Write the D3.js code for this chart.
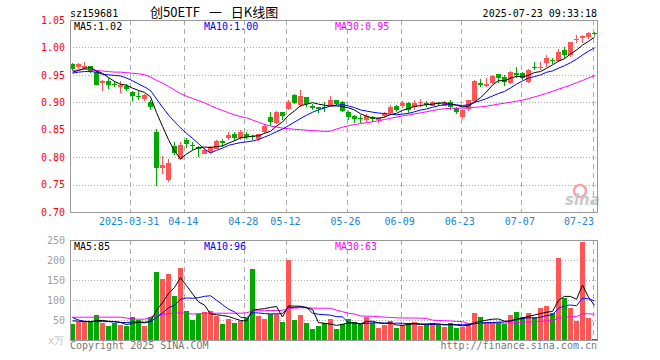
<!DOCTYPE html>
<html>
<head>
<meta charset="utf-8">
<script src="https://cdn.jsdelivr.net/npm/d3@7/dist/d3.min.js"></script>
<style>
  body { margin: 0; background: #fff; }
  svg text { font-family: "DejaVu Sans Mono", monospace; font-size: 10px; }
</style>
</head>
<body>
<svg id="chart" width="660" height="360"></svg>
<script>
// trading days shown (2025)
var dates = ["03-17","03-18","03-19","03-20","03-21","03-24","03-25","03-26","03-27","03-28","03-31",
  "04-01","04-02","04-03","04-07","04-08","04-09","04-10","04-11","04-14","04-15","04-16","04-17","04-18",
  "04-21","04-22","04-23","04-24","04-25","04-28","04-29","04-30",
  "05-06","05-07","05-08","05-09","05-12","05-13","05-14","05-15","05-16","05-19","05-20","05-21","05-22","05-23",
  "05-26","05-27","05-28","05-29","05-30",
  "06-03","06-04","06-05","06-06","06-09","06-10","06-11","06-12","06-13","06-16","06-17","06-18","06-19","06-20",
  "06-23","06-24","06-25","06-26","06-27","06-30",
  "07-01","07-02","07-03","07-04","07-07","07-08","07-09","07-10","07-11","07-14","07-15","07-16","07-17","07-18",
  "07-21","07-22","07-23"];

var open = [0.970,0.964,0.964,0.966,0.956,0.934,0.939,0.933,0.929,0.929,0.919,0.912,0.906,0.901,0.846,0.781,0.758,0.820,0.797,0.831,
  0.822,0.818,0.806,0.810,0.815,0.829,0.835,0.842,0.835,0.842,0.838,0.833,0.846,0.873,0.863,0.883,0.888,0.913,0.895,0.909,
  0.893,0.891,0.891,0.895,0.904,0.901,0.883,0.875,0.871,0.868,0.873,0.868,0.874,0.881,0.893,0.892,0.899,0.892,0.898,0.898,
  0.893,0.899,0.894,0.901,0.889,0.873,0.887,0.903,0.935,0.931,0.935,0.951,0.947,0.936,0.953,0.953,0.937,0.965,0.963,0.971,
  0.977,0.975,0.995,0.985,1.013,1.016,1.018,1.026];
var high = [0.971,0.972,0.974,0.966,0.957,0.940,0.944,0.938,0.939,0.933,0.921,0.920,0.916,0.905,0.851,0.802,0.796,0.828,0.828,0.834,
  0.828,0.820,0.816,0.821,0.832,0.833,0.845,0.845,0.849,0.845,0.840,0.843,0.860,0.883,0.885,0.883,0.904,0.916,0.922,0.909,
  0.897,0.892,0.900,0.911,0.905,0.903,0.885,0.877,0.877,0.879,0.875,0.873,0.883,0.895,0.895,0.902,0.900,0.904,0.906,0.902,
  0.902,0.901,0.902,0.904,0.891,0.887,0.905,0.941,0.942,0.944,0.950,0.951,0.950,0.957,0.965,0.956,0.960,0.974,0.974,0.986,
  0.980,0.997,1.000,1.010,1.023,1.023,1.029,1.029];
var low = [0.957,0.960,0.960,0.953,0.932,0.921,0.925,0.927,0.917,0.921,0.902,0.905,0.902,0.886,0.748,0.770,0.754,0.804,0.795,0.817,
  0.813,0.800,0.805,0.808,0.814,0.819,0.831,0.830,0.831,0.833,0.832,0.830,0.843,0.857,0.860,0.868,0.886,0.897,0.892,0.892,
  0.886,0.880,0.883,0.894,0.895,0.883,0.868,0.863,0.863,0.864,0.864,0.862,0.872,0.879,0.883,0.889,0.880,0.886,0.892,0.891,
  0.893,0.894,0.893,0.886,0.878,0.869,0.884,0.901,0.927,0.928,0.934,0.936,0.930,0.934,0.944,0.941,0.935,0.959,0.959,0.965,
  0.969,0.973,0.980,0.983,1.008,1.008,1.016,1.021];
var close = [0.960,0.969,0.967,0.957,0.933,0.938,0.931,0.931,0.932,0.924,0.911,0.910,0.913,0.892,0.780,0.786,0.789,0.808,0.822,0.823,
  0.820,0.814,0.813,0.819,0.830,0.826,0.840,0.834,0.846,0.836,0.836,0.842,0.857,0.864,0.883,0.875,0.901,0.899,0.911,0.896,
  0.890,0.887,0.889,0.904,0.897,0.885,0.874,0.870,0.869,0.875,0.870,0.871,0.880,0.892,0.886,0.898,0.887,0.899,0.900,0.895,
  0.901,0.898,0.901,0.892,0.881,0.886,0.904,0.939,0.932,0.934,0.948,0.944,0.938,0.956,0.950,0.944,0.958,0.963,0.965,0.980,
  0.975,0.992,0.985,1.009,1.015,1.020,1.026,1.024];
// volume, 万
var volume = [40,46,46,48,62,43,35,43,37,35,57,50,35,58,171,152,165,110,181,72,
  50,64,69,72,61,40,52,43,48,54,177,61,52,64,64,46,200,50,62,43,
  27,35,42,52,27,40,52,44,39,58,42,31,37,47,31,37,42,46,36,39,
  42,37,33,43,31,33,43,68,58,46,45,46,40,62,69,57,67,57,81,85,
  67,206,106,81,48,246,54,3];

// moving-average values before enough days are on screen
var ma5PriceHead = [0.955,0.958,0.962,0.963];
var ma10PriceHead = [0.953,0.955,0.956,0.956,0.955,0.951,0.950,0.949,0.948];
var ma30PriceHead = [0.958,0.959,0.960,0.959,0.958,0.957,0.956,0.955,0.955,0.954,0.953,0.952,0.950,0.946,0.940,
  0.935,0.929,0.922,0.916,0.911,0.907,0.903,0.899,0.894,0.889,0.885,0.881,0.877,0.874];
var ma5VolHead = [48,47,46,46];
var ma10VolHead = [56,50,47,46,46,46,46,45,44];
var ma30VolHead = [57,57,57,57,57,57,57,57,57,55,53,52,52,57,62,64,66,67,68,66,65,66,67,67,67,67,67,67,67];

var priceTicks = [0.70,0.75,0.80,0.85,0.90,0.95,1.00,1.05];
var volTicks = [50,100,150,200,250];
var dateTicks = ["03-31","04-14","04-28","05-12","05-26","06-09","06-23","07-07","07-23"];
var dateLabels = ["2025-03-31","04-14","04-28","05-12","05-26","06-09","06-23","07-07","07-23"];

var RED = "#ff5555", GREEN = "#00a800", GRID = "#aaaaaa", FRAME = "#999999";
var L = 70, R = 597, PT = 20, PB = 212, VT = 240, VB = 340;

function movingAvg(vals, n, head) {
  return vals.map(function (v, i) {
    if (i < n - 1) return head[i];
    return d3.mean(vals.slice(i - n + 1, i + 1));
  });
}

var svg = d3.select("#chart");
var x = d3.scaleBand().domain(dates).range([L, 599]);
var bw = x.bandwidth();
var yP = d3.scaleLinear().domain([0.70, 1.05]).range([PB, PT]);
var yV = d3.scaleLinear().domain([0, 250]).range([VB, VT]);
var cx = function (i) { return Math.floor(x(dates[i]) + 2) + 0.5; };

// grid
[[PT, PB], [VT, VB]].forEach(function (r) {
  svg.append("g").selectAll("line").data(dateTicks).enter().append("line")
    .attr("x1", function (d) { return Math.round(x(d)) + 0.5; })
    .attr("x2", function (d) { return Math.round(x(d)) + 0.5; })
    .attr("y1", r[0]).attr("y2", r[1])
    .attr("stroke", GRID).attr("stroke-dasharray", "5,4");
});
svg.append("g").selectAll("line").data(priceTicks.slice(1, -1)).enter().append("line")
  .attr("x1", L).attr("x2", R)
  .attr("y1", function (d) { return Math.round(yP(d)) + 0.5; })
  .attr("y2", function (d) { return Math.round(yP(d)) + 0.5; })
  .attr("stroke", GRID).attr("stroke-dasharray", "1,2");
svg.append("g").selectAll("line").data(volTicks.slice(0, -1)).enter().append("line")
  .attr("x1", L).attr("x2", R)
  .attr("y1", function (d) { return Math.round(yV(d)) + 0.5; })
  .attr("y2", function (d) { return Math.round(yV(d)) + 0.5; })
  .attr("stroke", GRID).attr("stroke-dasharray", "1,2");

// watermark
svg.append("circle").attr("cx", 580).attr("cy", 191).attr("r", 6)
  .attr("fill", "none").attr("stroke", "#f3a5a5").attr("stroke-width", 2.5);
svg.append("text").attr("x", 565).attr("y", 205)
  .style("font-family", "DejaVu Sans").style("font-size", "15px").style("font-style", "italic").style("font-weight", "bold")
  .attr("fill", "#c8c8c8").text("sina");

// candles
var idx = d3.range(dates.length);
var cg = svg.append("g").attr("shape-rendering", "crispEdges");
cg.selectAll("line").data(idx).enter().append("line")
  .attr("x1", cx).attr("x2", cx)
  .attr("y1", function (i) { return yP(high[i]); })
  .attr("y2", function (i) { return yP(low[i]); })
  .attr("stroke", function (i) { return close[i] >= open[i] ? RED : GREEN; });
cg.selectAll("rect").data(idx).enter().append("rect")
  .attr("x", function (i) { return Math.floor(x(dates[i])); })
  .attr("width", 5)
  .attr("y", function (i) { return Math.round(yP(Math.max(open[i], close[i]))); })
  .attr("height", function (i) { return Math.max(1, Math.round(Math.abs(yP(open[i]) - yP(close[i])))); })
  .attr("fill", function (i) { return close[i] >= open[i] ? RED : GREEN; });

// volume bars
svg.append("g").attr("shape-rendering", "crispEdges")
  .selectAll("rect").data(idx).enter().append("rect")
  .attr("x", function (i) { return Math.floor(x(dates[i])); })
  .attr("width", 5)
  .attr("y", function (i) { return Math.round(yV(volume[i])); })
  .attr("height", function (i) { return VB - Math.round(yV(volume[i])); })
  .attr("fill", function (i) { return close[i] >= open[i] ? RED : GREEN; });

// moving averages
function drawLine(vals, y, color) {
  var line = d3.line().x(function (d, i) { return cx(i); }).y(function (d) { return y(d); });
  svg.append("path").datum(vals).attr("d", line)
    .attr("fill", "none").attr("stroke", color).attr("stroke-width", 1);
}
var ma5P = movingAvg(close, 5, ma5PriceHead), ma10P = movingAvg(close, 10, ma10PriceHead), ma30P = movingAvg(close, 30, ma30PriceHead);
var ma5V = movingAvg(volume, 5, ma5VolHead), ma10V = movingAvg(volume, 10, ma10VolHead), ma30V = movingAvg(volume, 30, ma30VolHead);
drawLine(ma30P, yP, "#ff00ff");
drawLine(ma10P, yP, "#0000ff");
drawLine(ma5P, yP, "#000000");
drawLine(ma30V, yV, "#ff00ff");
drawLine(ma10V, yV, "#0000ff");
drawLine(ma5V, yV, "#000000");

// frames
[[PT, PB], [VT, VB]].forEach(function (r) {
  svg.append("rect").attr("x", L + 0.5).attr("y", r[0] + 0.5)
    .attr("width", R - L).attr("height", r[1] - r[0])
    .attr("fill", "none").attr("stroke", FRAME);
});

// axes
var ay = svg.append("g").attr("transform", "translate(" + L + ",0)")
  .call(d3.axisLeft(yP).tickValues(priceTicks).tickSize(0).tickPadding(5).tickFormat(d3.format(".2f")));
ay.select(".domain").remove();
ay.selectAll("text").attr("fill", "#ff0000").style("font-family", "DejaVu Sans Mono").style("font-size", "10px");

var av = svg.append("g").attr("transform", "translate(" + L + ",0)")
  .call(d3.axisLeft(yV).tickValues(volTicks).tickSize(0).tickPadding(5));
av.select(".domain").remove();
av.selectAll("text").attr("fill", "#a0a0a0").style("font-family", "DejaVu Sans Mono").style("font-size", "10px");
svg.append("text").attr("x", 64).attr("y", 344).attr("text-anchor", "end")
  .attr("fill", "#c0c0c0").text("x万");

var ax = svg.append("g").attr("transform", "translate(" + (-bw / 2 - 1) + "," + PB + ")")
  .call(d3.axisBottom(x).tickValues(dateTicks).tickSize(0).tickPadding(6)
    .tickFormat(function (d) { return dateLabels[dateTicks.indexOf(d)]; }));
ax.select(".domain").remove();
ax.selectAll("text").attr("fill", "#1a85d6").style("font-family", "DejaVu Sans Mono").style("font-size", "10px");
ax.selectAll(".tick:last-of-type text").attr("text-anchor", "end").attr("x", 2);

// titles and legends
function label(tx, ty, s, color, anchor) {
  svg.append("text").attr("x", tx).attr("y", ty).attr("fill", color || "#000")
    .attr("text-anchor", anchor || "start").text(s);
}
label(70, 17, "sz159681");
svg.append("text").attr("x", 150).attr("y", 17).attr("word-spacing", "6px")
  .style("font-family", "Noto Sans CJK SC").style("font-size", "13px").text("创50ETF 一 日K线图");
label(597, 17, "2025-07-23 09:33:18", "#000", "end");

var fmt2 = d3.format(".2f");
label(74, 30, "MA5:" + fmt2(ma5P[ma5P.length - 1]));
label(204, 30, "MA10:" + fmt2(ma10P[ma10P.length - 1]), "#0000ff");
label(335, 30, "MA30:" + fmt2(ma30P[ma30P.length - 1]), "#ff00ff");
label(74, 250, "MA5:85");
label(204, 250, "MA10:96", "#0000ff");
label(335, 250, "MA30:63", "#ff00ff");

label(70, 349, "Copyright 2025 SINA.COM", "#777");
label(597, 349, "http://finance.sina.com.cn", "#777", "end");
</script>
</body>
</html>
